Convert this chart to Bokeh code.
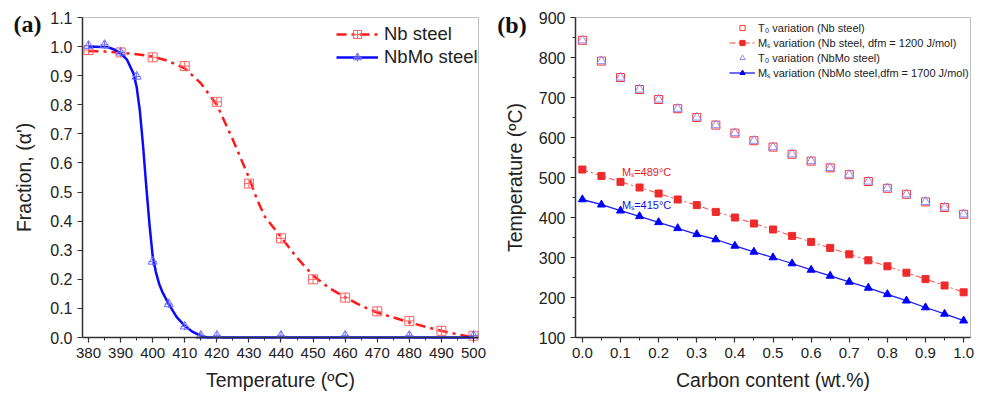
from bokeh.plotting import figure
from bokeh.layouts import row
from bokeh.models import (FixedTicker, Legend, LegendItem, Label, NumeralTickFormatter, Range1d,
                          BoxAnnotation)
from bokeh.embed import file_html
from bokeh.resources import INLINE

# ---------------- Panel (a) data ----------------
nb_temp = [380, 390, 400, 410, 420, 430, 440, 450, 460, 470, 480, 490, 500]
nb_frac = [0.988, 0.980, 0.963, 0.933, 0.810, 0.529, 0.341, 0.200, 0.137, 0.090, 0.057, 0.023, 0.006]
nbmo_temp = [380, 385, 390, 395, 400, 405, 410, 415, 420, 440, 460, 480, 500]
nbmo_frac = [1.003, 1.006, 0.980, 0.897, 0.261, 0.115, 0.038, 0.006, 0.006, 0.006, 0.006, 0.006, 0.006]

nb_fit_temp = [380, 385, 390, 395, 400, 405, 410, 415, 420, 425, 430, 432.5, 435, 440, 445, 450,
               455, 460, 465, 470, 475, 480, 485, 490, 495, 500]
nb_fit_frac = [0.985, 0.983, 0.979, 0.974, 0.966, 0.950, 0.925, 0.874, 0.800, 0.680, 0.550, 0.475,
               0.415, 0.345, 0.274, 0.213, 0.170, 0.138, 0.109, 0.086, 0.069, 0.052, 0.037, 0.023,
               0.011, 0.0]
nbmo_fit_temp = [380, 386, 388, 390, 392, 394, 395, 396, 397, 398, 399, 400, 401, 402, 403, 405,
                 407.5, 410, 412.5, 415, 417, 500]
nbmo_fit_frac = [1.0, 0.998, 0.99, 0.977, 0.955, 0.908, 0.862, 0.78, 0.66, 0.52, 0.39, 0.28, 0.225,
                 0.185, 0.157, 0.115, 0.07, 0.04, 0.019, 0.006, 0.0, 0.0]

a_xticks = [380, 390, 400, 410, 420, 430, 440, 450, 460, 470, 480, 490, 500]
a_xminor = [385, 395, 405, 415, 425, 435, 445, 455, 465, 475, 485, 495]
a_yticks = [0.0, 0.1, 0.2, 0.3, 0.4, 0.5, 0.6, 0.7, 0.8, 0.9, 1.0, 1.1]
a_xbounds = (378.13, 501.56)
a_ybounds = (0.0, 1.1)

# ---------------- Panel (b) data ----------------
carbon = [0.0, 0.05, 0.1, 0.15, 0.2, 0.25, 0.3, 0.35, 0.4, 0.45, 0.5, 0.55, 0.6, 0.65, 0.7,
          0.75, 0.8, 0.85, 0.9, 0.95, 1.0]
t0_nb = [843, 791, 750, 720, 695, 672, 650, 631, 611, 592, 576, 558, 541, 524, 507, 490, 473,
         458, 439, 425, 408]
t0_nbmo = [843, 791, 750, 720, 695, 672, 650, 631, 611, 592, 576, 558, 541, 524, 507, 490, 473,
           458, 439, 425, 408]
ms_nb = [520, 504, 489, 475, 460, 445, 431, 414, 400, 385, 370, 354, 339, 324, 308, 293, 278,
         262, 246, 230, 213]
ms_nbmo = [445, 432, 417, 403, 388, 373, 358, 345, 329, 314, 300, 285, 269, 254, 239, 224, 208,
           192, 175, 159, 142]

b_xticks = [0.0, 0.1, 0.2, 0.3, 0.4, 0.5, 0.6, 0.7, 0.8, 0.9, 1.0]
b_xminor = [0.05, 0.15, 0.25, 0.35, 0.45, 0.55, 0.65, 0.75, 0.85, 0.95]
b_yticks = [100, 200, 300, 400, 500, 600, 700, 800, 900]
b_yminor = [150, 250, 350, 450, 550, 650, 750, 850]
b_xbounds = (-0.018, 1.018)
b_ybounds = (100, 900)

FONT = "Liberation Sans"
AXC = "#333333"
W, H = 491, 398


def make_fig(xb, yb, left, right, top, bottom, xlabel, ylabel):
    # frame covers the whole canvas; the axes sit at fixed data locations
    sx = (xb[1] - xb[0]) / (W - left - right)
    sy = (yb[1] - yb[0]) / (H - top - bottom)
    xr = Range1d(xb[0] - left * sx, xb[1] + right * sx)
    yr = Range1d(yb[0] - bottom * sy, yb[1] + top * sy)
    p = figure(width=W, height=H, output_backend="svg", toolbar_location=None,
               x_range=xr, y_range=yr, min_border=0, min_border_left=0, min_border_right=0,
               min_border_top=0, min_border_bottom=0,
               x_axis_label=xlabel, y_axis_label=ylabel)
    p.outline_line_color = None
    p.xaxis.fixed_location = yb[0]
    p.yaxis.fixed_location = xb[0]
    p.xaxis.bounds = xb
    p.yaxis.bounds = yb
    p.add_layout(BoxAnnotation(left=xb[0], right=xb[1], bottom=yb[0], top=yb[1],
                               fill_color=None, fill_alpha=0, line_color=AXC, line_width=1))
    return p


def style(p, xt, xm, yt, ym, xfmt, yfmt):
    p.xaxis.ticker = FixedTicker(ticks=xt, minor_ticks=xm)
    p.yaxis.ticker = FixedTicker(ticks=yt, minor_ticks=ym)
    p.xaxis.formatter = NumeralTickFormatter(format=xfmt)
    p.yaxis.formatter = NumeralTickFormatter(format=yfmt)
    p.xgrid.visible = False
    p.ygrid.visible = False
    for ax in (p.xaxis[0], p.yaxis[0]):
        ax.axis_line_color = AXC
        ax.axis_line_width = 1.5
        ax.major_tick_line_color = AXC
        ax.minor_tick_line_color = AXC
        ax.major_tick_line_width = 1.2
        ax.major_tick_out = 5
        ax.major_tick_in = 0
        ax.minor_tick_out = 3
        ax.minor_tick_in = 0
        ax.major_label_text_font = FONT
        ax.major_label_text_color = "#222222"
        ax.axis_label_text_font = FONT
        ax.axis_label_text_font_style = "normal"
        ax.axis_label_text_color = "#222222"
        ax.axis_label_text_font_size = "19.5px"
        ax.major_label_standoff = 5
    p.xaxis.major_label_text_font_size = "15px"
    p.yaxis.major_label_text_font_size = "16px"


def tag(p, text, x, y):
    p.add_layout(Label(x=x, y=y, text=text, text_font="Liberation Serif",
                       text_font_style="bold", text_font_size="24px", text_baseline="middle",
                       text_align="left", text_color="#111111"))


# ---------------- Figure (a) ----------------
pa = make_fig(a_xbounds, a_ybounds, 82, 13, 17, 61, "Temperature (ºC)", "Fraction, (α')")
style(pa, a_xticks, a_xminor, a_yticks, [], "0", "0.0")
pa.xaxis.axis_label_standoff = 8
pa.yaxis.axis_label_standoff = 12

nb_line = pa.line(nb_fit_temp, nb_fit_frac, line_color="#ff1a1a", line_width=2.5,
                  line_dash="10 5 3 5")
nb_pts = pa.scatter(nb_temp, nb_frac, marker="square_cross", size=9, fill_color=None,
                    line_color="#ff6060", line_width=1)
nbmo_line = pa.line(nbmo_fit_temp, nbmo_fit_frac, line_color="#0a0aff", line_width=2.5)
nbmo_pts = pa.scatter(nbmo_temp, nbmo_frac, marker="triangle", size=9, fill_color=None,
                      line_color="#6a6aff", line_width=1)
nbmo_pts2 = pa.scatter(nbmo_temp, nbmo_frac, marker="cross", size=8,
                       line_color="#6a6aff", line_width=1)

leg_a = Legend(items=[LegendItem(label="Nb steel", renderers=[nb_line, nb_pts]),
                      LegendItem(label="NbMo steel", renderers=[nbmo_line, nbmo_pts, nbmo_pts2])],
               location=(336, 330), margin=0, padding=3, spacing=1,
               label_text_font=FONT, label_text_font_size="18.5px", label_text_color="#222222",
               glyph_width=42, glyph_height=20, label_height=20, label_standoff=6,
               border_line_color=None, background_fill_alpha=0)
pa.add_layout(leg_a)
tag(pa, "(a)", 356.6, 1.076)

# ---------------- Figure (b) ----------------
pb = make_fig(b_xbounds, b_ybounds, 84, 12, 17, 61, "Carbon content (wt.%)", "Temperature (ºC)")
style(pb, b_xticks, b_xminor, b_yticks, b_yminor, "0.0", "0")
pb.xaxis.axis_label_standoff = 8
pb.yaxis.axis_label_standoff = 10

t0nb_r = pb.scatter(carbon, t0_nb, marker="square", size=8, fill_color=None,
                    line_color="#ff3030", line_width=1)
msnb_line = pb.line(carbon, ms_nb, line_color="#ff4040", line_width=1, line_dash="6 3 2 3")
msnb_pts = pb.scatter(carbon, ms_nb, marker="square", size=7, fill_color="#ee2a2a",
                      line_color="#ee2a2a")
t0nbmo_r = pb.scatter(carbon, t0_nbmo, marker="triangle", size=9, fill_color=None,
                      line_color="#8a8aff", line_width=1)
msnbmo_line = pb.line(carbon, ms_nbmo, line_color="#1a1aff", line_width=1.3)
msnbmo_pts = pb.scatter(carbon, ms_nbmo, marker="triangle", size=8, fill_color="#0000ff",
                        line_color="#0000ff")

leg_b = Legend(items=[LegendItem(label="T₀ variation (Nb steel)", renderers=[t0nb_r]),
                      LegendItem(label="Mₛ variation (Nb steel, dfm = 1200 J/mol)",
                                 renderers=[msnb_line, msnb_pts]),
                      LegendItem(label="T₀ variation (NbMo steel)", renderers=[t0nbmo_r]),
                      LegendItem(label="Mₛ variation (NbMo steel,dfm = 1700 J/mol)",
                                 renderers=[msnbmo_line, msnbmo_pts])],
               location=(238, 318), margin=0, padding=3, spacing=1,
               label_text_font=FONT, label_text_font_size="11px", label_text_color="#222222",
               glyph_width=26, glyph_height=13, label_height=13, label_standoff=3,
               border_line_color=None, background_fill_alpha=0)
pb.add_layout(leg_b)
pb.add_layout(Label(x=0.104, y=513, text="Mₛ=489°C", text_font=FONT, text_font_size="11px",
                    text_color="#ee2020", text_baseline="middle", text_align="left"))
pb.add_layout(Label(x=0.104, y=432, text="Mₛ=415°C", text_font=FONT, text_font_size="11px",
                    text_color="#1010ee", text_baseline="middle", text_align="left"))
tag(pb, "(b)", -0.223, 882.5)

layout = row(pa, pb)
open("out.html", "w").write(file_html(layout, INLINE))
